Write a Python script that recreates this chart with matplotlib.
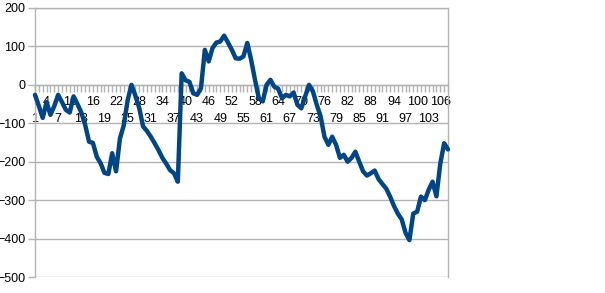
import numpy as np
import matplotlib
matplotlib.use("Agg")
import matplotlib.pyplot as plt
from matplotlib.ticker import MultipleLocator

# category numbers shown on the x axis
categories = list(range(1, 109))

# series values
values = [
    -26, -55, -86, -45, -78, -55, -26, -45, -65, -72,
    -30, -50, -72, -104, -148, -151, -187, -204, -229, -232,
    -178, -225, -140, -105, -40, 0, -28, -60, -108, -120,
    -135, -152, -170, -190, -205, -222, -230, -252, 30, 12,
    8, -22, -26, -9, 91, 61, 96, 110, 113, 128,
    110, 91, 69, 68, 74, 109, 65, 13, -35, -43,
    0, 13, -5, -10, -35, -26, -30, -20, -52, -61,
    -30, 0, -17, -52, -82, -135, -156, -135, -156, -190,
    -182, -200, -190, -174, -200, -225, -236, -230, -223, -245,
    -258, -270, -291, -315, -335, -350, -385, -404, -335, -330,
    -291, -300, -273, -252, -290, -205, -152, -168,
]

y_ticks = [-500, -400, -300, -200, -100, 0, 100, 200]
label_step = 3

line_color = "#004586"
grid_color = "#b3b3b3"

plt.rcParams["font.family"] = ["Liberation Sans", "DejaVu Sans"]

fig = plt.figure(figsize=(6.05, 2.93), dpi=100)
ax = fig.add_axes([35 / 605, 1 - 277 / 293, 413 / 605, 269 / 293])

ax.plot(categories, values, color=line_color, linewidth=3.2,
        solid_joinstyle="round", solid_capstyle="round", zorder=3, clip_on=False)

ax.set_xlim(categories[0], categories[-1])
ax.set_ylim(y_ticks[0], y_ticks[-1])

# y axis
ax.set_yticks(y_ticks)
ax.yaxis.grid(True, color=grid_color, linewidth=1)
ax.tick_params(axis="y", direction="out", length=5, width=1, color=grid_color,
               labelsize=9, pad=2)

# x axis crosses at zero, staggered labels every 3rd category
ax.spines["bottom"].set_position(("data", 0))
for side in ["left", "right", "top", "bottom"]:
    ax.spines[side].set_color(grid_color)
    ax.spines[side].set_linewidth(1)

shown = categories[::label_step]
ax.set_xticks(shown)
ax.set_xticklabels([("\n" if k % 2 == 0 else "") + str(c) for k, c in enumerate(shown)])
ax.xaxis.set_minor_locator(MultipleLocator(1))
ax.tick_params(axis="x", which="both", direction="out", length=5, width=1,
               color=grid_color, labelsize=9, pad=3)
for lab in ax.get_xticklabels():
    lab.set_linespacing(1.55)
    lab.set_verticalalignment("top")

ax.set_axisbelow(True)

fig.savefig("out.png", dpi=100)
